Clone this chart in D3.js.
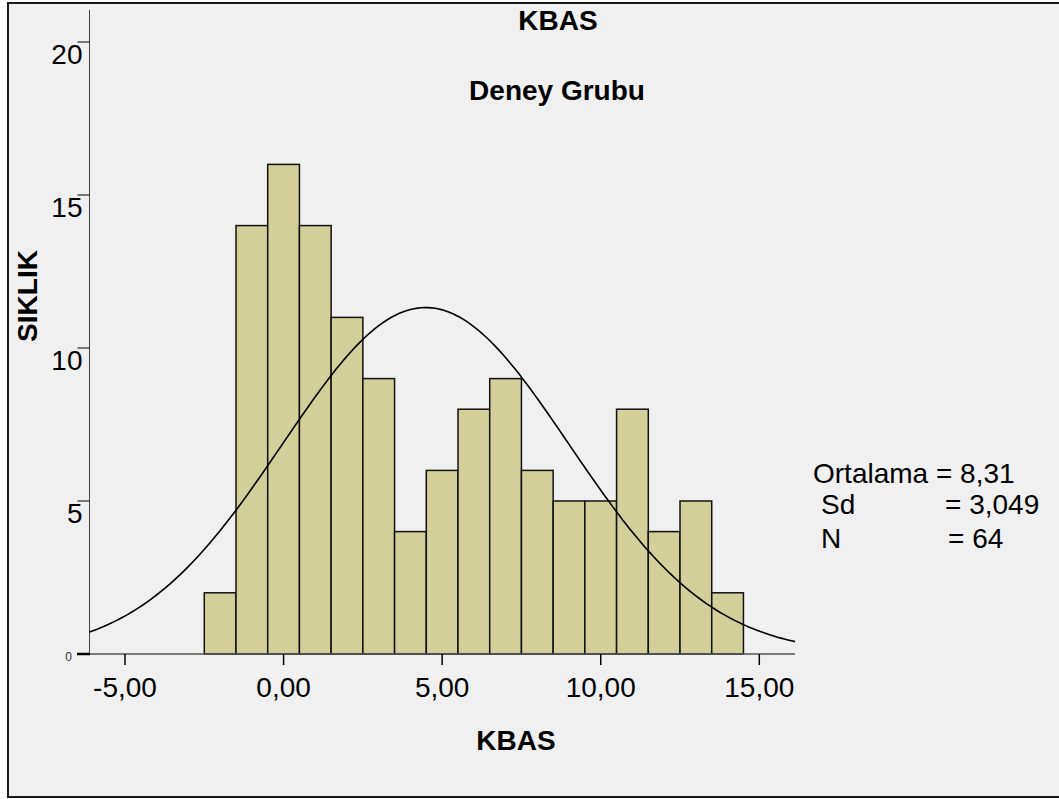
<!DOCTYPE html>
<html>
<head>
<meta charset="utf-8">
<script src="https://cdn.jsdelivr.net/npm/d3@7"></script>
<style>
  body { margin: 0; background: #fff; }
  svg text { font-family: "Liberation Sans", Arial, sans-serif; fill: #000; }
</style>
</head>
<body>
<div id="chart"></div>
<script>
// histogram data (bins centered on integers)
var binCenters = [-2,-1,0,1,2,3,4,5,6,7,8,9,10,11,12,13,14]
var counts = [2,14,16,14,11,9,4,6,8,9,6,5,5,8,4,5,2]
var xTicks = [-5,0,5,10,15]
var xTickLabels = ['-5,00','0,00','5,00','10,00','15,00']
var yTicks = [5,10,15,20]
var yTickLabels = ['5','10','15','20']
// normal curve params
var curveMean = 4.48
var curveSd = 4.51
var curveTotal = 128
var statLabels = ['Ortalama','Sd','N']
var statValues = ['= 8,31','= 3,049','= 64']

var W = 1059, H = 799
var svg = d3.select('#chart').append('svg')
    .attr('width', W).attr('height', H)

svg.append('rect')
    .attr('x', 8).attr('y', 3)
    .attr('width', W).attr('height', 794)
    .attr('fill', '#f0f0f0')
    .attr('stroke', '#1a1a1a').attr('stroke-width', 2)

var xscale = d3.scaleLinear().domain([-5, 15]).range([125, 759.3])
var yscale = d3.scaleLinear().domain([0, 20]).range([654, 42])
var xmin = xscale.invert(89.5), xmax = xscale.invert(795)

// bars
svg.selectAll('rect.bar')
    .data(binCenters)
    .enter().append('rect')
    .attr('class', 'bar')
    .attr('x', d => xscale(d - 0.5))
    .attr('y', (d, i) => yscale(counts[i]))
    .attr('width', d => xscale(d + 0.5) - xscale(d - 0.5))
    .attr('height', (d, i) => yscale(0) - yscale(counts[i]))
    .attr('fill', '#d3cf98')
    .attr('stroke', '#111')
    .attr('stroke-width', 1.5)

// axes lines
svg.append('line')
    .attr('x1', 89.5).attr('x2', 795)
    .attr('y1', yscale(0)).attr('y2', yscale(0))
    .attr('stroke', '#555').attr('stroke-width', 1.5)
svg.append('line')
    .attr('x1', 89.5).attr('x2', 89.5)
    .attr('y1', 10).attr('y2', yscale(0))
    .attr('stroke', '#444').attr('stroke-width', 1)

// x ticks
var xt = svg.selectAll('g.xt').data(xTicks).enter().append('g')
    .attr('transform', d => `translate(${xscale(d)},${yscale(0)})`)
xt.append('line').attr('y1', 0).attr('y2', 11)
    .attr('stroke', '#000').attr('stroke-width', 1.5)
xt.append('text').attr('y', 43)
    .attr('text-anchor', 'middle')
    .style('font-size', '28px')
    .text((d, i) => xTickLabels[i])

// y ticks
var yt = svg.selectAll('g.yt').data(yTicks).enter().append('g')
    .attr('transform', d => `translate(89.5,${yscale(d)})`)
yt.append('line').attr('x1', -12).attr('x2', 0)
    .attr('stroke', '#000').attr('stroke-width', 1)
yt.append('text').attr('x', -7).attr('y', 22)
    .attr('text-anchor', 'end')
    .style('font-size', '28px')
    .text((d, i) => yTickLabels[i])
// zero tick
svg.append('line')
    .attr('x1', 77).attr('x2', 90)
    .attr('y1', yscale(0)).attr('y2', yscale(0))
    .attr('stroke', '#000').attr('stroke-width', 2.5)
svg.append('text').attr('x', 72).attr('y', yscale(0) + 7)
    .attr('text-anchor', 'end')
    .style('font-size', '12px').style('fill', '#333')
    .text('0')

// normal curve
var pts = d3.range(0, 201).map(i => xmin + (xmax - xmin) * i / 200)
var pdf = x => curveTotal / (curveSd * Math.sqrt(2 * Math.PI)) * Math.exp(-Math.pow(x - curveMean, 2) / (2 * curveSd * curveSd))
var line = d3.line()
    .x(d => xscale(d))
    .y(d => yscale(pdf(d)))
svg.append('path')
    .attr('d', line(pts))
    .attr('fill', 'none')
    .attr('stroke', '#000')
    .attr('stroke-width', 1.6)

// titles
svg.append('text').attr('x', 558).attr('y', 30)
    .attr('text-anchor', 'middle')
    .style('font-size', '28px').style('font-weight', 'bold')
    .text('KBAS')
svg.append('text').attr('x', 557).attr('y', 100)
    .attr('text-anchor', 'middle')
    .style('font-size', '28px').style('font-weight', 'bold')
    .text('Deney Grubu')
svg.append('text').attr('x', 516).attr('y', 750)
    .attr('text-anchor', 'middle')
    .style('font-size', '28px').style('font-weight', 'bold')
    .text('KBAS')
svg.append('text')
    .attr('transform', 'translate(37,296) rotate(-90)')
    .attr('text-anchor', 'middle')
    .style('font-size', '28px').style('font-weight', 'bold')
    .text('SIKLIK')

// stats box
var statX = [813, 821, 821]
var statVX = [null, 945, 948]
var statY = [483, 514, 548]
statLabels.forEach(function(l, i){
    var t = svg.append('text').attr('x', statX[i]).attr('y', statY[i])
        .style('font-size', '28px')
    if (i == 0) {
        t.text(l + ' ' + statValues[i])
    } else {
        t.text(l)
        svg.append('text').attr('x', statVX[i]).attr('y', statY[i])
            .style('font-size', '28px')
            .text(statValues[i])
    }
})
</script>
</body>
</html>
